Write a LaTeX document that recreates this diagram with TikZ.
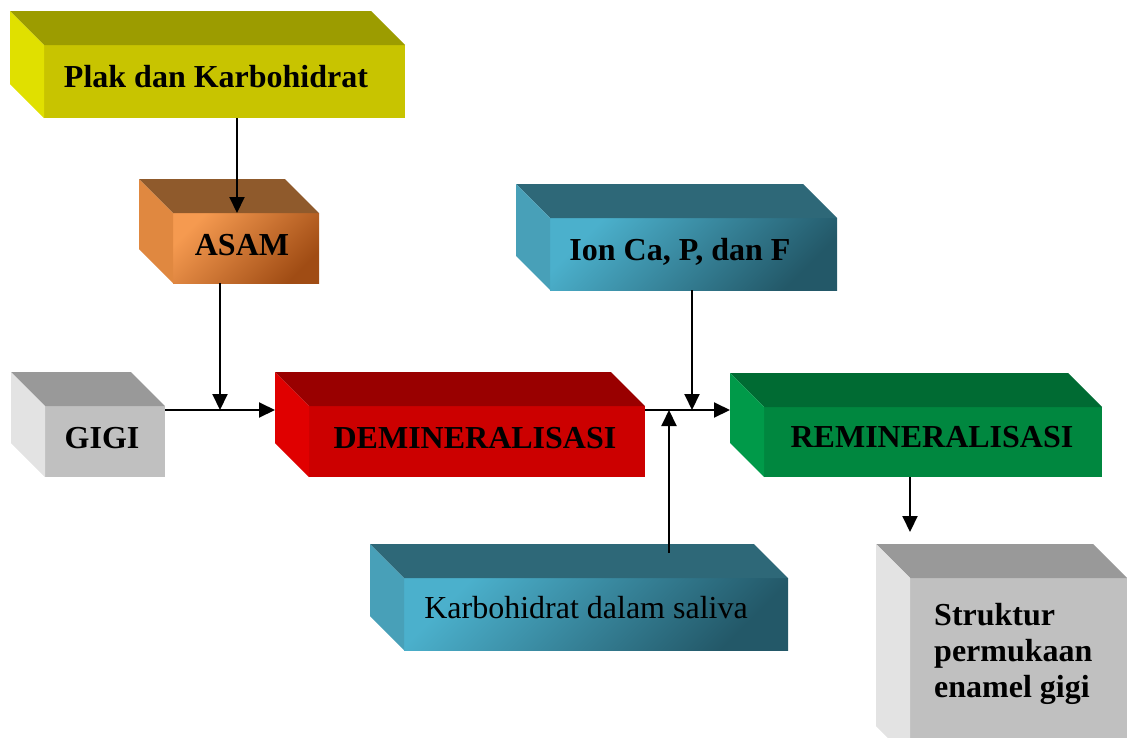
\documentclass[tikz,border=0pt]{standalone}
\usepackage{fontspec}
\setmainfont{Liberation Serif}
\usetikzlibrary{arrows.meta, calc}
\definecolor{plaktop}{HTML}{9C9C00}
\definecolor{plakside}{HTML}{E0E000}
\definecolor{plakfront}{HTML}{C8C400}
\definecolor{asamtop}{HTML}{8F5A2C}
\definecolor{asamside}{HTML}{E08840}
\definecolor{asamlight}{HTML}{F59A50}
\definecolor{asamdark}{HTML}{A04C14}
\definecolor{gigitop}{HTML}{999999}
\definecolor{gigiside}{HTML}{E3E3E3}
\definecolor{gigifront}{HTML}{C0C0C0}
\definecolor{demintop}{HTML}{990000}
\definecolor{deminside}{HTML}{E00000}
\definecolor{deminfront}{HTML}{CC0000}
\definecolor{remintop}{HTML}{006B33}
\definecolor{reminside}{HTML}{009A49}
\definecolor{reminfront}{HTML}{00873F}
\definecolor{iontop}{HTML}{2E6878}
\definecolor{ionside}{HTML}{48A0B8}
\definecolor{ionlight}{HTML}{4BB0CC}
\definecolor{iondark}{HTML}{235868}

% top and left faces of a box, from its front node
\newcommand{\bevel}[3]{%
  \fill[#2] (#1.north west) -- (#1.north east) -- ++(-34,-34) -- ($(#1.north west)+(-34,-34)$) -- cycle;
  \fill[#3] (#1.north west) -- (#1.south west) -- ++(-34,-34) -- ($(#1.north west)+(-34,-34)$) -- cycle;
}

\begin{document}
\begin{tikzpicture}[x=1pt, y=-1pt,
    face/.style={rectangle, inner sep=0pt, outer sep=0pt, anchor=north west},
    boxtext/.style={anchor=base, inner sep=0pt, font=\fontsize{32}{36}\selectfont\bfseries},
    link/.style={-{Triangle[length=16pt, width=15pt]}, line width=2pt},
]
\useasboundingbox (0,0) rectangle (1127,737);
\clip (0,0) rectangle (1127,737);

% boxes
\node[face, fill=plakfront, minimum width=361pt, minimum height=73pt] (plak) at (44,45) {};
\bevel{plak}{plaktop}{plakside}
\node[face, top color=asamlight, bottom color=asamdark, shading angle=45, minimum width=146pt, minimum height=70pt] (asam) at (173,213) {};
\bevel{asam}{asamtop}{asamside}
\node[face, fill=gigifront, minimum width=120pt, minimum height=71pt] (gigi) at (45,406) {};
\bevel{gigi}{gigitop}{gigiside}
\node[face, fill=deminfront, minimum width=336pt, minimum height=71pt] (demin) at (309,406) {};
\bevel{demin}{demintop}{deminside}
\node[face, fill=reminfront, minimum width=338pt, minimum height=70pt] (remin) at (764,407) {};
\bevel{remin}{remintop}{reminside}
\node[face, top color=ionlight, bottom color=iondark, shading angle=45, minimum width=287pt, minimum height=72pt] (ion) at (550,218) {};
\bevel{ion}{iontop}{ionside}
\node[face, top color=ionlight, bottom color=iondark, shading angle=45, minimum width=384pt, minimum height=72pt] (saliva) at (404,578) {};
\bevel{saliva}{iontop}{ionside}
\node[face, fill=gigifront, minimum width=217pt, minimum height=182pt] (struktur) at (910,578) {};
\bevel{struktur}{gigitop}{gigiside}

% texts
\node[boxtext] (plaklabel) at (216,87) {Plak dan Karbohidrat};
\node[boxtext] (asamlabel) at (242,255) {ASAM};
\node[boxtext] (gigilabel) at (102,448) {GIGI};
\node[boxtext] (deminlabel) at (475,448) {DEMINERALISASI};
\node[boxtext] (reminlabel) at (932,447) {REMINERALISASI};
\node[boxtext] (ionlabel) at (680,260) {Ion Ca, P, dan F};
\node[boxtext, font=\fontsize{32}{36}\selectfont] (salivalabel) at (586,618) {Karbohidrat dalam saliva};
\node[boxtext, anchor=north west, align=left] (strukturlabel) at (934,603) {Struktur\\permukaan\\enamel gigi};

% connectors
\coordinate (jasam) at (220,410);
\coordinate (jion) at (692,410);
\coordinate (jsaliva) at (669,410);
\draw[link] (plak.south -| 237,0) -- (asam.north -| 237,0);
\draw[link] (asam.south -| jasam) -- (jasam);
\draw[link] (gigi.east |- jasam) -- ($(demin.west |- jasam)+(-34,0)$);
\draw[link] (demin.east |- jion) -- ($(remin.west |- jion)+(-34,0)$);
\draw[link] (ion.south -| jion) -- (jion);
\draw[link] ($(saliva.north -| jsaliva)+(0,-25)$) -- (jsaliva);
\draw[link] (remin.south -| struktur.north west) -- ($(struktur.north west)+(0,-46)$);

\end{tikzpicture}
\end{document}
